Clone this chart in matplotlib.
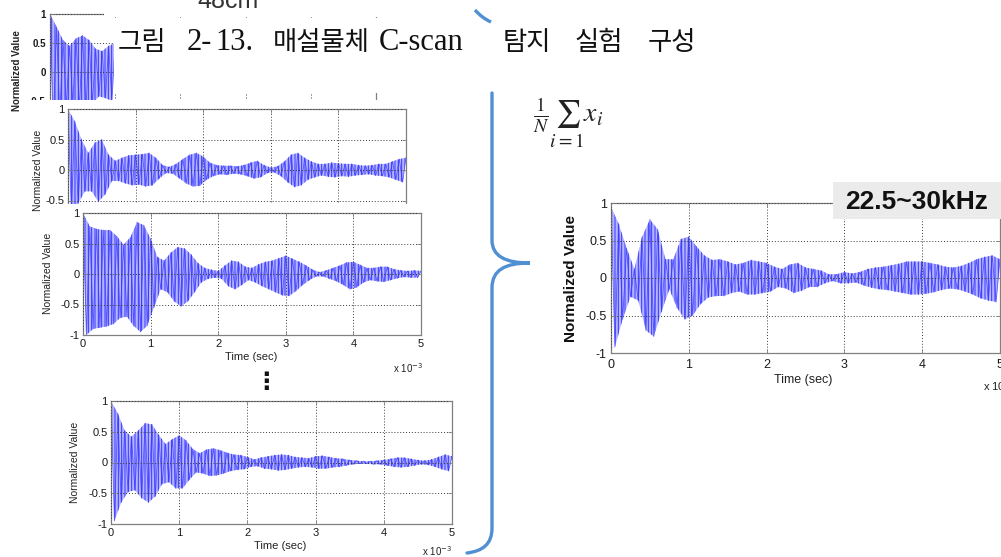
import numpy as np
import matplotlib
matplotlib.use("Agg")
import matplotlib.pyplot as plt
from matplotlib.transforms import Affine2D
from matplotlib.patches import Rectangle, PathPatch
from matplotlib.path import Path

plt.rcParams['font.family'] = ['Liberation Sans', 'DejaVu Sans']
plt.rcParams['hatch.linewidth'] = 0.7

# ---------------- data ----------------
x_ticks = [0, 1, 2, 3, 4, 5]
x_tick_labels = ["0", "1", "2", "3", "4", "5"]
y_ticks = [-1, -0.5, 0, 0.5, 1]
y_tick_labels = ["-1", "-0.5", "0", "0.5", "1"]

# sample times (ms) of the alternating peaks
time_ms = np.linspace(0, 5, 101)
time_ms_top = np.linspace(0, 1.0, 21)

# partly hidden top trace (only first ~1 ms visible)
sig_top = [1.00, -0.95, 0.78, -0.75, 0.55, -0.60, 0.45, -0.55, 0.58, -0.65,
           0.63, -0.68, 0.55, -0.55, 0.40, -0.42, 0.36, -0.45, 0.45, -0.50, 0.50]

sig_a = [1.00, -0.70, 0.80, -0.55, 0.50, -0.35, 0.28, -0.35, 0.45, -0.52,
         0.50, -0.40, 0.25, -0.18, 0.15, -0.18, 0.20, -0.22, 0.24, -0.25,
         0.25, -0.24, 0.26, -0.27, 0.28, -0.25, 0.20, -0.14, 0.08, -0.05,
         0.05, -0.06, 0.10, -0.14, 0.18, -0.22, 0.25, -0.27, 0.28, -0.26,
         0.22, -0.16, 0.12, -0.10, 0.08, -0.07, 0.07, -0.08, 0.07, -0.06,
         0.06, -0.07, 0.08, -0.10, 0.12, -0.14, 0.15, -0.12, 0.08, -0.05,
         0.04, -0.04, 0.06, -0.10, 0.14, -0.20, 0.25, -0.28, 0.28, -0.25,
         0.20, -0.16, 0.14, -0.12, 0.10, -0.09, 0.10, -0.11, 0.12, -0.12,
         0.11, -0.10, 0.10, -0.11, 0.10, -0.09, 0.08, -0.08, 0.07, -0.07,
         0.08, -0.09, 0.10, -0.10, 0.10, -0.12, 0.14, -0.16, 0.18, -0.20,
         0.20]

sig_b = [1.00, -1.00, 0.78, -0.90, 0.74, -0.88, 0.72, -0.86, 0.72, -0.82,
         0.62, -0.72, 0.48, -0.70, 0.60, -0.85, 0.85, -0.95, 0.80, -0.85,
         0.58, -0.55, 0.28, -0.25, 0.22, -0.30, 0.35, -0.45, 0.44, -0.53,
         0.42, -0.45, 0.32, -0.30, 0.18, -0.14, 0.10, -0.08, 0.07, -0.06,
         0.05, -0.08, 0.14, -0.20, 0.22, -0.25, 0.20, -0.18, 0.12, -0.10,
         0.10, -0.14, 0.16, -0.20, 0.20, -0.25, 0.22, -0.30, 0.26, -0.35,
         0.30, -0.36, 0.25, -0.28, 0.20, -0.18, 0.14, -0.10, 0.07, -0.04,
         0.03, -0.04, 0.06, -0.08, 0.10, -0.12, 0.14, -0.18, 0.19, -0.25,
         0.20, -0.22, 0.15, -0.14, 0.10, -0.10, 0.10, -0.12, 0.12, -0.13,
         0.12, -0.10, 0.08, -0.07, 0.06, -0.05, 0.05, -0.06, 0.06, -0.06,
         0.05]

sig_c = [1.00, -0.95, 0.80, -0.65, 0.52, -0.48, 0.42, -0.45, 0.52, -0.58,
         0.64, -0.65, 0.62, -0.55, 0.45, -0.35, 0.30, -0.32, 0.38, -0.42,
         0.44, -0.42, 0.36, -0.28, 0.22, -0.16, 0.15, -0.18, 0.21, -0.22,
         0.23, -0.21, 0.20, -0.18, 0.16, -0.14, 0.13, -0.12, 0.12, -0.11,
         0.09, -0.07, 0.05, -0.06, 0.08, -0.10, 0.10, -0.11, 0.12, -0.13,
         0.13, -0.12, 0.12, -0.10, 0.09, -0.08, 0.08, -0.07, 0.07, -0.08,
         0.10, -0.10, 0.11, -0.10, 0.09, -0.08, 0.07, -0.07, 0.06, -0.05,
         0.04, -0.03, 0.03, -0.02, 0.02, -0.02, 0.02, -0.03, 0.03, -0.03,
         0.04, -0.05, 0.06, -0.07, 0.08, -0.08, 0.08, -0.07, 0.06, -0.05,
         0.04, -0.03, 0.03, -0.04, 0.05, -0.07, 0.09, -0.11, 0.13, -0.14,
         0.10]

sig_avg = [0.95, -0.92, 0.72, -0.55, 0.40, -0.25, 0.12, -0.30, 0.55, -0.70,
           0.78, -0.78, 0.65, -0.45, 0.25, -0.15, 0.25, -0.40, 0.52, -0.55,
           0.55, -0.50, 0.42, -0.35, 0.30, -0.26, 0.24, -0.24, 0.25, -0.24,
           0.22, -0.20, 0.18, -0.18, 0.20, -0.22, 0.24, -0.22, 0.22, -0.20,
           0.20, -0.18, 0.15, -0.12, 0.12, -0.14, 0.18, -0.20, 0.20, -0.17,
           0.14, -0.12, 0.12, -0.12, 0.10, -0.07, 0.05, -0.04, 0.05, -0.07,
           0.08, -0.07, 0.06, -0.06, 0.08, -0.10, 0.12, -0.13, 0.14, -0.15,
           0.15, -0.16, 0.17, -0.18, 0.19, -0.20, 0.22, -0.22, 0.22, -0.22,
           0.22, -0.21, 0.20, -0.19, 0.18, -0.16, 0.15, -0.14, 0.14, -0.15,
           0.16, -0.18, 0.20, -0.22, 0.25, -0.27, 0.28, -0.30, 0.30, -0.32,
           0.25]

title_words = ["그림", "2-", "13.", "매설물체", "C-scan", "탐지", "실험", "구성"]
band_label = "22.5~30kHz"

# ---------------- figure ----------------
W, H = 1001, 557
fig = plt.figure(figsize=(W / 100, H / 100), dpi=100)
fig.patch.set_facecolor("white")
PX = Affine2D().scale(1 / W, -1 / H).translate(0, 1) + fig.transFigure

WAVE = "#3535ff"
WAVE_FILL = "#b4b4ff"
BRACE = "#4f8fd2"


def ptext(x, y, s, z, **kw):
    return fig.text(x, y, s, transform=PX, zorder=z, **kw)


def white_box(x0, y0, x1, y1, z, color="white"):
    fig.add_artist(Rectangle((x0, y0), x1 - x0, y1 - y0, transform=PX,
                             facecolor=color, edgecolor="none", zorder=z))


def draw_wave(ax, t, sig):
    t = np.asarray(t)
    s = np.asarray(sig)
    # envelope polygon through the positive and negative peaks
    px = np.concatenate([t[0::2], t[1::2][::-1]])
    py = np.concatenate([s[0::2], s[1::2][::-1]])
    ax.fill(px, py, facecolor=WAVE_FILL, edgecolor=WAVE, lw=0,
            hatch="|||||", zorder=1.5)
    ax.plot(t, s, color=WAVE, lw=0.6, alpha=0.75, zorder=1.6)


def panel(box, z, t, sig, fs, pad_y, pad_x, weight="normal",
          show_x=True, ylabels=None):
    l, tp, r, b = box
    ax = fig.add_axes([l / W, 1 - b / H, (r - l) / W, (b - tp) / H], zorder=z)
    draw_wave(ax, t, sig)
    ax.set_xlim(0, 5)
    ax.set_ylim(-1, 1)
    ax.set_xticks(x_ticks)
    ax.set_xticklabels(x_tick_labels, fontweight=weight)
    ax.set_yticks(y_ticks)
    ax.set_yticklabels(ylabels if ylabels is not None else y_tick_labels,
                       fontweight=weight)
    ax.set_axisbelow(False)
    ax.grid(True, color="#3a3a3a", linestyle=(0, (1, 2)), linewidth=0.7)
    for s in ax.spines.values():
        s.set_color("#808080")
        s.set_linewidth(0.9)
    ax.tick_params(direction="in", length=3, width=0.6, color="#808080",
                   labelsize=fs, labelcolor="#1a1a1a", top=True, right=True)
    ax.tick_params(axis="y", pad=pad_y)
    ax.tick_params(axis="x", pad=pad_x, labelbottom=show_x)
    return ax


# --- top (mostly hidden) panel ---
panel((50, 14, 376, 130), 1, time_ms_top, sig_top, 7, 3, 3, weight="bold",
      show_x=False, ylabels=["", "-0.5", "0", "0.5", "1"])
ptext(17, 71, "Normalized Value", 1.1, rotation=90, ha="center", va="center",
      fontsize=7, fontweight="bold", color="#222")

# --- panel A ---
white_box(26, 100, 425, 380, 1.5)
panel((68, 109, 406, 231), 2, time_ms, sig_a, 8, 2.5, 3, show_x=False,
      ylabels=["", "-0.5", "0", "0.5", "1"])
ptext(38, 170, "Normalized Value", 2.1, rotation=90, ha="center", va="center",
      fontsize=7.5, color="#222")

# --- panel B ---
white_box(40, 204, 435, 375, 2.5)
panel((83, 213, 421, 335), 3, time_ms, sig_b, 8, 2.5, 3)
ptext(48, 273, "Normalized Value", 3.1, rotation=90, ha="center", va="center",
      fontsize=7.5, color="#222")
ptext(251, 357, "Time (sec)", 3.1, ha="center", va="center", fontsize=8,
      color="#222")
ptext(393, 368, r"x 10$^{-3}$", 3.1, ha="left", va="center", fontsize=7,
      color="#222")

# vertical ellipsis
ptext(266, 382, "⋮", 3.2, ha="center", va="center", fontsize=17,
      fontweight="bold", family=["DejaVu Sans"], color="#111")

# --- panel C ---
panel((111, 401, 452, 524), 4, time_ms, sig_c, 8, 2.5, 3)
ptext(75, 462, "Normalized Value", 4.1, rotation=90, ha="center", va="center",
      fontsize=7.5, color="#222")
ptext(280, 546, "Time (sec)", 4.1, ha="center", va="center", fontsize=8,
      color="#222")
ptext(422, 551, r"x 10$^{-3}$", 4.1, ha="left", va="center", fontsize=7,
      color="#222")

# --- averaged panel (right) ---
panel((611, 203, 1000, 353), 4, time_ms, sig_avg, 9, 3, 4)
ptext(571, 278, "Normalized Value", 4.1, rotation=90, ha="center", va="center",
      fontsize=11, fontweight="bold", color="#111")
ptext(803, 380, "Time (sec)", 4.1, ha="center", va="center", fontsize=9,
      color="#222")
ptext(983, 386, r"x 10$^{-3}$", 4.1, ha="left", va="center", fontsize=8,
      color="#222")
white_box(833, 182, 1001, 219, 4.5, color="#ebebeb")
ptext(845, 202, band_label, 4.6, ha="left", va="center", fontsize=19,
      fontweight="bold", color="#111")

# formula
ptext(533, 123, r"$\frac{1}{N}\sum_{i=1} x_i$", 4.6, ha="left", va="center",
      fontsize=20, math_fontfamily="stix", color="#222")

# --- caption box over the top panel ---
white_box(104, 11, 380, 16.5, 5)
white_box(114, 18, 770, 93, 5)
title_x = [118, 187, 215, 273, 379, 503, 575, 648]
title_latin = [False, True, True, False, True, False, False, False]
for wx, word, lat in zip(title_x, title_words, title_latin):
    ptext(wx, 50, word, 5.1, ha="left", va="baseline",
          fontsize=22 if lat else 19,
          family=["Liberation Serif", "Noto Sans CJK KR"], color="#111")

ptext(197, 7.5, "48cm", 5.1, ha="left", va="baseline", fontsize=18,
      color="#333")

# --- brace ---
M, L, C = Path.MOVETO, Path.LINETO, Path.CURVE4
verts = [(492, 93), (492, 240),
         (492, 256), (505, 263), (530, 263),
         (505, 263), (492, 270), (492, 288),
         (492, 528),
         (492, 544), (483, 551), (467, 553)]
codes = [M, L, C, C, C, C, C, C, L, C, C, C]
fig.add_artist(PathPatch(Path(verts, codes), transform=PX, facecolor="none",
                         edgecolor=BRACE, lw=2.4, zorder=6,
                         capstyle="round"))
fig.add_artist(PathPatch(Path([(475, 10), (482, 18), (491, 22)],
                              [M, Path.CURVE3, Path.CURVE3]),
                         transform=PX, facecolor="none", edgecolor=BRACE,
                         lw=2.4, zorder=6))

fig.savefig("out.png", dpi=100, facecolor="white")
